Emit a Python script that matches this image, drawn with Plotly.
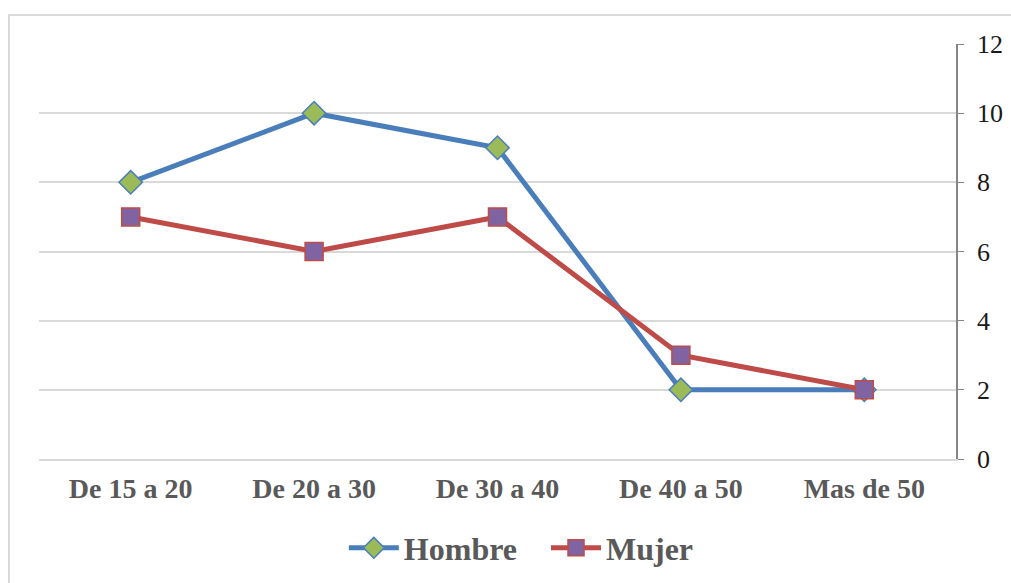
import plotly.graph_objects as go

# Age groups and counts per sex
categories = ["De 15 a 20", "De 20 a 30", "De 30 a 40", "De 40 a 50", "Mas de 50"]
hombre = [8, 10, 9, 2, 2]
mujer = [7, 6, 7, 3, 2]
y_ticks = [0, 2, 4, 6, 8, 10, 12]

fig = go.Figure()
fig.add_trace(go.Scatter(
    x=categories, y=hombre, name="<b>Hombre</b>&nbsp;&nbsp;&nbsp;", mode="lines+markers",
    line=dict(color="#4a7ebb", width=5),
    marker=dict(symbol="diamond", size=18, color="#9bbb59",
                line=dict(color="#4a7ebb", width=1.5)),
))
fig.add_trace(go.Scatter(
    x=categories, y=mujer, name="<b>Mujer</b>", mode="lines+markers",
    line=dict(color="#be4b48", width=5),
    marker=dict(symbol="square", size=18, color="#8064a2",
                line=dict(color="#be4b48", width=1.5)),
))

# outer chart frame
fig.add_shape(type="rect", xref="paper", yref="paper",
              x0=-0.0327, x1=1.07, y0=-0.35, y1=1.07,
              line=dict(color="#d9d9d9", width=2), fillcolor="rgba(0,0,0,0)",
              layer="below")

fig.update_layout(
    width=1011, height=583,
    margin=dict(l=39, r=55, t=44, b=124, autoexpand=False),
    paper_bgcolor="white", plot_bgcolor="white",
    showlegend=True,
    legend=dict(orientation="h", x=0.526, xanchor="center",
                yref="container", y=0.06, yanchor="middle",
                font=dict(family="Liberation Serif", size=32, color="#595959"),
                itemwidth=50, traceorder="normal"),
    xaxis=dict(type="category", range=[-0.5, 4.5], showgrid=False, automargin=False,
               showline=True, linecolor="#d9d9d9", linewidth=1.5,
               ticks="", tickfont=dict(family="Liberation Serif", size=28, color="#595959"),
               tickprefix="<b>", ticksuffix="</b>", zeroline=False,
               ticklabelstandoff=4),
    yaxis=dict(side="right", range=[0, 12], tickvals=y_ticks, automargin=False,
               showgrid=True, gridcolor="#d9d9d9", gridwidth=1.5,
               showline=True, linecolor="#868686", linewidth=1.5,
               ticks="outside", ticklen=6, tickcolor="#868686",
               tickfont=dict(family="Liberation Sans Narrow", size=26, color="#1a1a1a"),
               zeroline=False, ticklabelstandoff=8),
)

fig.write_html("out.html")
